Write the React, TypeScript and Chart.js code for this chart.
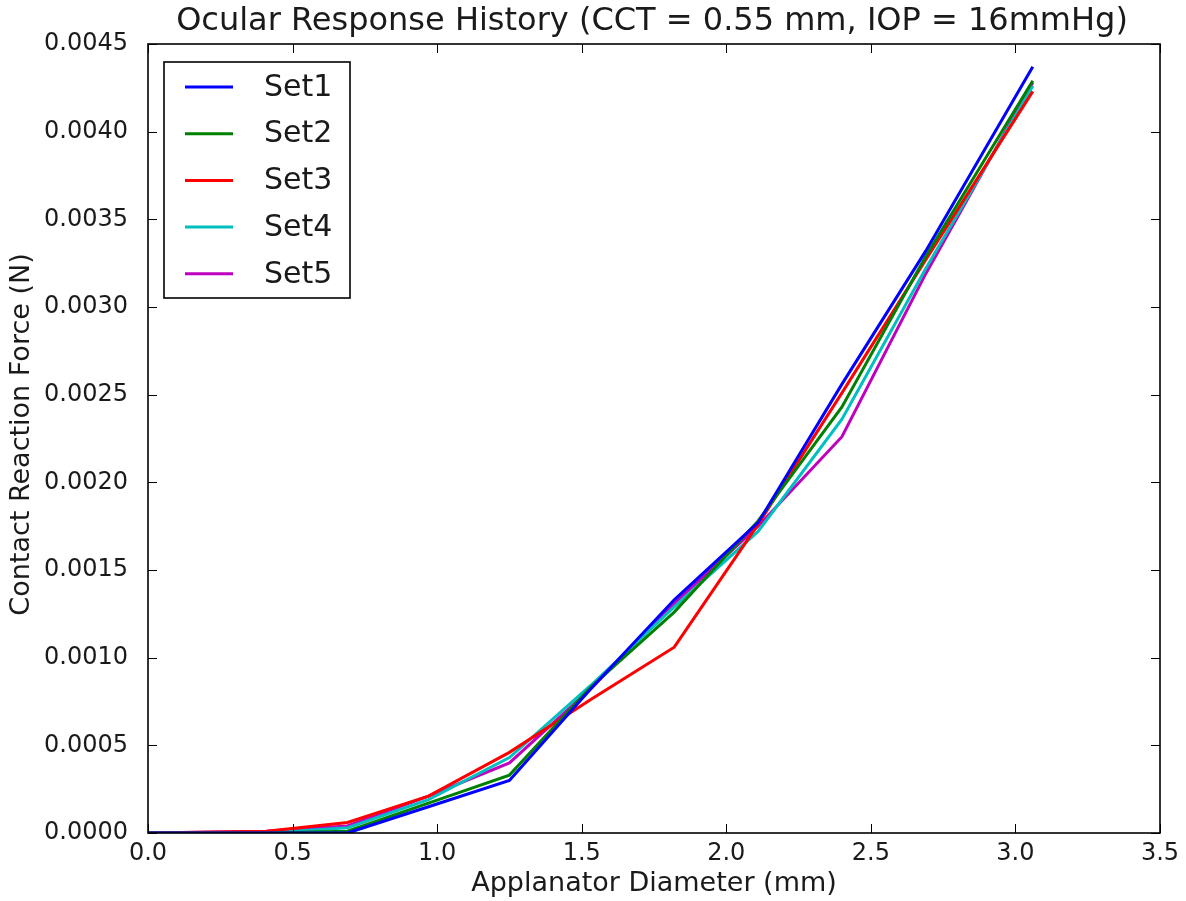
import React, { useEffect, useRef } from "react";
import { Chart, registerables } from "chart.js";

Chart.register(...registerables);

const TITLE = "Ocular Response History (CCT = 0.55 mm, IOP = 16mmHg)";
const X_LABEL = "Applanator Diameter (mm)";
const Y_LABEL = "Contact Reaction Force (N)";

const diameters = [0, 0.41, 0.69, 0.97, 1.25, 1.53, 1.82, 2.11, 2.4, 2.69, 3.06];

const set1 = [0, 0, 0.0, 0.00015, 0.0003, 0.00082, 0.00133, 0.00177, 0.00256, 0.00332, 0.00437];
const set2 = [0, 0, 0.00001, 0.00017, 0.00033, 0.00083, 0.00126, 0.00178, 0.00243, 0.00329, 0.00429];
const set3 = [0, 0.00001, 0.00006, 0.00021, 0.00046, 0.00076, 0.00106, 0.00176, 0.00251, 0.00327, 0.00423];
const set4 = [0, 0, 0.00003, 0.00019, 0.00043, 0.00084, 0.00129, 0.00172, 0.00236, 0.00322, 0.00426];
const set5 = [0, 0.00001, 0.00004, 0.00021, 0.0004, 0.00082, 0.00131, 0.00175, 0.00226, 0.00319, 0.00428];

const seriesLabels = ["Set1", "Set2", "Set3", "Set4", "Set5"];
const seriesColors = ["#0000ff", "#008000", "#ff0000", "#00bfbf", "#bf00bf"];
const seriesValues = [set1, set2, set3, set4, set5];

const FONT = "'DejaVu Sans', sans-serif";
const TEXT = "#1a1a1a";

const decorPlugin = {
  id: "decor",
  afterDraw(chart: any) {
    const { ctx, chartArea } = chart;
    const { left, right, top, bottom } = chartArea;
    const xs = chart.scales.x;
    const ys = chart.scales.y;
    ctx.save();
    // ticks inward on all sides
    ctx.strokeStyle = "#000";
    ctx.lineWidth = 1;
    const tl = 9;
    xs.ticks.forEach((t: any) => {
      const px = Math.round(xs.getPixelForValue(t.value)) + 0.5;
      ctx.beginPath();
      ctx.moveTo(px, bottom);
      ctx.lineTo(px, bottom - tl);
      ctx.moveTo(px, top);
      ctx.lineTo(px, top + tl);
      ctx.stroke();
    });
    ys.ticks.forEach((t: any) => {
      const py = Math.round(ys.getPixelForValue(t.value)) + 0.5;
      ctx.beginPath();
      ctx.moveTo(left, py);
      ctx.lineTo(left + tl, py);
      ctx.moveTo(right, py);
      ctx.lineTo(right - tl, py);
      ctx.stroke();
    });
    // frame
    ctx.lineWidth = 1.6;
    ctx.strokeRect(left, top, right - left, bottom - top);

    // x tick labels from the x scale's ticks
    ctx.fillStyle = TEXT;
    ctx.font = `24px ${FONT}`;
    ctx.textAlign = "center";
    ctx.textBaseline = "middle";
    xs.ticks.forEach((t: any) => {
      const px = xs.getPixelForValue(t.value);
      ctx.fillText(Number(t.value).toFixed(1), px, bottom + 21);
    });

    // legend
    const lx = 164, ly = 62, lw = 186, lh = 236;
    ctx.fillStyle = "#fff";
    ctx.fillRect(lx, ly, lw, lh);
    ctx.lineWidth = 1.6;
    ctx.strokeStyle = "#000";
    ctx.strokeRect(lx, ly, lw, lh);
    ctx.font = `30px ${FONT}`;
    ctx.textBaseline = "middle";
    ctx.textAlign = "left";
    chart.data.datasets.forEach((ds: any, i: number) => {
      const y = 87 + i * 46.7;
      ctx.strokeStyle = ds.borderColor;
      ctx.lineWidth = 3;
      ctx.beginPath();
      ctx.moveTo(185, y);
      ctx.lineTo(233, y);
      ctx.stroke();
      ctx.fillStyle = TEXT;
      ctx.fillText(ds.label, 264, y + 1);
    });

    // titles
    ctx.fillStyle = TEXT;
    ctx.textAlign = "center";
    ctx.textBaseline = "middle";
    ctx.font = `32px ${FONT}`;
    ctx.fillText(TITLE, (left + right) / 2 - 2, 22);
    ctx.font = `27px ${FONT}`;
    ctx.fillText(X_LABEL, (left + right) / 2, 884);
    ctx.translate(22, (top + bottom) / 2 - 4);
    ctx.rotate(-Math.PI / 2);
    ctx.fillText(Y_LABEL, 0, 0);
    ctx.restore();
  },
};

export default function App() {
  const ref = useRef<HTMLCanvasElement | null>(null);
  useEffect(() => {
    document.body.style.margin = "0";
    const canvas = ref.current!;
    const chart = new Chart(canvas, {
      type: "line",
      data: {
        datasets: seriesValues.map((vals, i) => ({
          label: seriesLabels[i],
          data: diameters.map((d, j) => ({ x: d, y: vals[j] })),
          borderColor: seriesColors[i],
          backgroundColor: seriesColors[i],
          borderWidth: 3,
          pointRadius: 0,
          tension: 0,
          fill: false,
        })),
      },
      options: {
        responsive: false,
        animation: false,
        layout: { padding: { top: 44, right: 26, left: 0, bottom: 0 } },
        plugins: {
          legend: { display: false },
          title: { display: false },
          tooltip: { enabled: false },
        },
        scales: {
          x: {
            type: "linear",
            min: 0,
            max: 3.5,
            grid: { display: false },
            border: { display: false },
            ticks: {
              display: false,
              stepSize: 0.5,
            },
            afterFit: (s: any) => {
              s.height = 68;
            },
          },
          y: {
            type: "linear",
            min: 0,
            max: 0.0045,
            grid: { display: false },
            border: { display: false },
            ticks: {
              stepSize: 0.0005,
              padding: 12,
              color: TEXT,
              font: { family: FONT, size: 24 },
              callback: (v: any) => Number(v).toFixed(4),
            },
            afterFit: (s: any) => {
              s.width = 148;
            },
          },
        },
      },
      plugins: [decorPlugin],
    });
    return () => chart.destroy();
  }, []);
  return (
    <div style={{ width: 1186, height: 901 }}>
      <canvas ref={ref} width={1186} height={901} />
    </div>
  );
}
